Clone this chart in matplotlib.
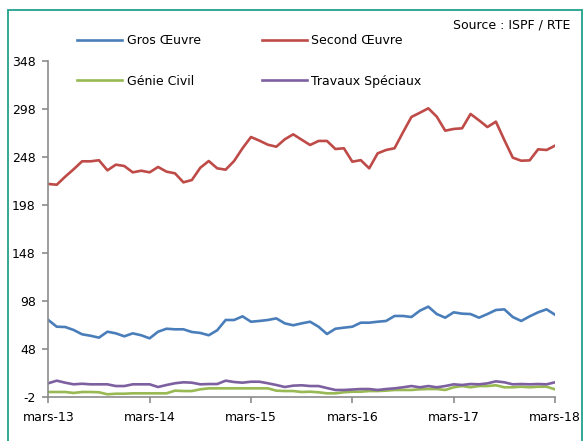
import numpy as np
import matplotlib.pyplot as plt
from matplotlib.patches import Rectangle

plt.rcParams['font.family'] = ['DejaVu Sans']
plt.rcParams['axes.unicode_minus'] = False

# données mensuelles mars-13 -> mars-18
mois = np.arange(61)
gros_oeuvre = [77.9, 70.9, 70.6, 67.5, 63, 61.5, 59.5, 65.7, 64, 60.9,
               64, 62, 58.8, 65.7, 68.8, 68.2, 68.2, 65.4, 64.4, 62,
               67.2, 77.9, 77.9, 81.7, 76.1, 76.9, 77.9, 79.6, 74.4, 72.4,
               74.4, 76.1, 70.9, 63.3, 68.8, 69.9, 70.9, 75.1, 75.1, 76.1,
               76.9, 82.1, 82.1, 81, 87.6, 91.8, 84.1, 80.3, 85.9, 84.5,
               84.1, 80.3, 84.1, 88.3, 89, 81, 76.9, 81.7, 85.9, 89, 83.4]
second_oeuvre = [219.6, 218.8, 227.2, 234.9, 243.2, 243.2, 244.3, 233.8, 239.7, 238.3,
                 231.7, 233.4, 231.7, 237.3, 232.4, 230.7, 221.3, 223.7, 236.5, 243.5,
                 235.9, 234.5, 243.5, 256.8, 268.5, 264.7, 260.5, 258.4, 266.1, 271.3,
                 265.7, 260.2, 264.4, 264.4, 256, 256.8, 242.8, 244.4, 235.9, 251.5,
                 255, 256.8, 273.4, 289.4, 293.8, 298.4, 289.7, 275.1, 276.9, 277.6,
                 292.5, 285.9, 278.9, 284.5, 265.4, 247, 243.8, 244.2, 255.7, 255, 259.5]
genie_civil = [2.9, 2.9, 2.9, 1.9, 2.9, 2.9, 2.6, 0.5, 1.1, 1.1,
               1.5, 1.5, 1.5, 1.5, 1.5, 4.3, 3.9, 3.9, 5.7, 6.7,
               6.7, 6.7, 6.7, 6.7, 6.7, 6.7, 6.7, 4.3, 3.9, 3.9,
               2.9, 3.2, 2.6, 1.5, 1.5, 2.6, 3.2, 3.2, 3.9, 3.9,
               4.3, 5, 5, 5, 5.7, 6, 6, 5, 7.8, 9.1,
               7.8, 9.1, 9.1, 9.9, 7.8, 7.8, 8.4, 7.8, 8.4, 8.4, 5.7]
travaux_speciaux = [12, 14.7, 12.6, 10.9, 11.5, 10.9, 10.9, 10.9, 9.1, 9.1,
                    10.9, 10.9, 10.9, 8.1, 10.2, 12, 13, 12.6, 10.9, 11.2,
                    11.2, 14.7, 13.3, 12.6, 13.6, 13.6, 12, 10.2, 8.1, 9.5,
                    9.9, 9.1, 9.1, 7, 5, 5, 5.5, 6, 6, 5,
                    6, 6.7, 7.8, 9.1, 7.8, 9.1, 7.8, 9.1, 10.9, 10.2,
                    11.2, 10.9, 11.9, 14, 13, 10.9, 11.2, 10.9, 11.2, 10.9, 13]

yticks = [-2, 48, 98, 148, 198, 248, 298, 348]
xtick_pos = [0, 12, 24, 36, 48, 60]
xtick_labels = ['mars-13', 'mars-14', 'mars-15', 'mars-16', 'mars-17', 'mars-18']

W, H = 584, 441
fig = plt.figure(figsize=(W / 100, H / 100), dpi=100)
ax = fig.add_axes([48.3 / W, 44.3 / H, (555 - 48.3) / W, (396.7 - 60.7) / H])

lw = 1.9
ax.plot(mois, gros_oeuvre, color='#4a7ebb', lw=lw, label='Gros Œuvre')
ax.plot(mois, second_oeuvre, color='#be4b48', lw=lw, label='Second Œuvre')
ax.plot(mois, genie_civil, color='#98b954', lw=lw, label='Génie Civil')
ax.plot(mois, travaux_speciaux, color='#7d60a0', lw=lw, label='Travaux Spéciaux')

ax.set_xlim(0, 60)
ax.set_ylim(-2, 348)
ax.set_yticks(yticks)
ax.set_xticks(xtick_pos)
ax.set_xticklabels(xtick_labels)
for s in ['top', 'right']:
    ax.spines[s].set_visible(False)
for s in ['left', 'bottom']:
    ax.spines[s].set_color('#8c8c8c')
    ax.spines[s].set_linewidth(1.2)
ax.tick_params(axis='both', colors='#8c8c8c', labelcolor='black', labelsize=9,
               length=4, width=1.2, direction='out')
ax.tick_params(axis='y', pad=5)
ax.tick_params(axis='x', pad=6)

# légende (handles = lignes ci-dessus)
h, l = ax.get_legend_handles_labels()
order = [0, 2, 1, 3]
fig.legend([h[i] for i in order], [l[i] for i in order], ncol=2, frameon=False,
           loc='upper left', bbox_to_anchor=(71 / W, 1 - 28 / H),
           borderpad=0, handlelength=3.6, handletextpad=0.35,
           labelspacing=2.2, columnspacing=4.9, fontsize=9)

fig.text(570 / W, 1 - 25 / H, 'Source : ISPF / RTE', ha='right', va='center', fontsize=9)

# cadre
fig.patches.append(Rectangle((8 / W, -0.05), 574 / W, 1.05 - 9.5 / H,
                             transform=fig.transFigure, fill=False,
                             edgecolor='#22a08c', lw=1.3))

fig.savefig('out.png', dpi=100)
